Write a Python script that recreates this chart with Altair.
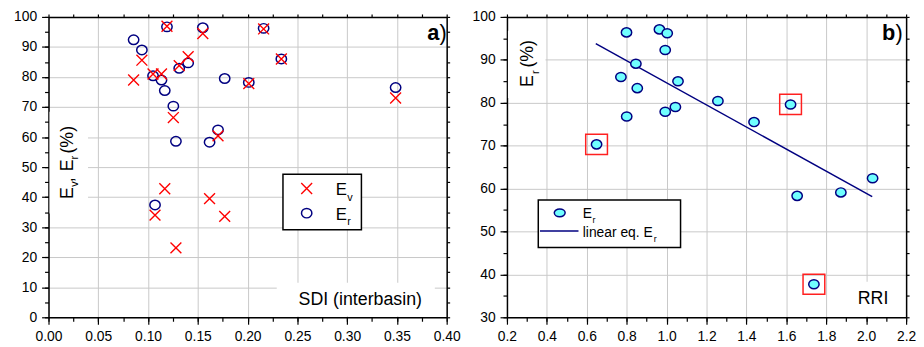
import altair as alt
import pandas as pd

# ---------------- Panel a: SDI (interbasin) vs Ev, Er ----------------
sdi = [0.0855, 0.0938, 0.1050, 0.1070, 0.1135, 0.1168, 0.1190, 0.1254, 0.1280, 0.1313,
       0.1403, 0.1550, 0.1618, 0.1703, 0.1770, 0.2012, 0.2161, 0.2339, 0.3487]
ev = [79.0, 85.6, 81.0, 34.0, 81.0, 42.8, 96.9, 66.5, 23.1, 83.8,
      86.8, 94.5, 39.5, 60.4, 33.6, 77.8, 96.0, 86.0, 73.0]
er_a = [92.4, 89.0, 80.4, 37.4, 79.0, 75.5, 96.7, 70.3, 58.6, 82.9,
        84.7, 96.4, 58.3, 62.4, 79.5, 78.2, 96.2, 86.0, 76.5]

# ---------------- Panel b: RRI vs Er ----------------
rri = [0.649, 0.771, 0.799, 0.800, 0.846, 0.853, 0.964, 0.993, 0.993, 1.003,
       1.044, 1.057, 1.257, 1.438, 1.621, 1.654, 1.738, 1.873, 2.032]
er_b = [70.3, 86.0, 96.4, 76.8, 89.1, 83.4, 97.1, 92.3, 77.9, 96.2,
        79.0, 85.0, 80.4, 75.5, 79.6, 58.3, 37.7, 59.1, 62.4]
flagged = [True, False, False, False, False, False, False, False, False, False,
           False, False, False, False, True, False, True, False, False]
fit_rri = [0.645, 2.030]
fit_er = [93.8, 58.1]

# tick values
xa_major = [round(i * 0.05, 3) for i in range(9)]
xa_minor = [round(i * 0.025, 3) for i in range(17)]
ya_major = list(range(0, 101, 10))
ya_minor = list(range(0, 101, 5))
xb_major = [round(0.2 + i * 0.2, 2) for i in range(11)]
xb_minor = [round(0.2 + i * 0.1, 2) for i in range(21)]
yb_major = list(range(30, 101, 10))
yb_minor = list(range(30, 101, 5))

FONT = "Liberation Sans"
NAVY = "#000080"
RED = "#ff0000"
CYAN = "#70ffff"
GRID = "#c8c8c8"
XPATH = "M-1,-1L1,1M1,-1L-1,1"
ELL_A = "M-1,0A1,0.91,0,1,1,1,0A1,0.91,0,1,1,-1,0Z"
ELL_B = "M-1,0A1,0.88,0,1,1,1,0A1,0.88,0,1,1,-1,0Z"
ELL_L = "M-1,0A1,0.72,0,1,1,1,0A1,0.72,0,1,1,-1,0Z"
BOXPATH = "M-1,-0.93H1V0.93H-1Z"

dfa = pd.DataFrame({"sdi": sdi, "ev": ev, "er": er_a})
dfb = pd.DataFrame({"rri": rri, "er": er_b, "flag": flagged})
dfl = pd.DataFrame({"rri": fit_rri, "er": fit_er})
one = pd.DataFrame({"k": [0]})


def ax_major(orient, values, fmt):
    return alt.Axis(orient=orient, values=values, format=fmt, title=None, grid=True,
                    gridColor=GRID, gridWidth=1, domain=True, domainColor="black",
                    domainWidth=1.5, ticks=True, tickColor="black", tickWidth=1.2,
                    tickSize=7, labelFont=FONT, labelFontSize=14, labelColor="black",
                    labelPadding=5, labelFlush=False, labelOverlap=False)


def ax_minor(orient, values):
    return alt.Axis(orient=orient, values=values, title=None, grid=False, domain=False,
                    labels=False, ticks=True, tickColor="black", tickWidth=1.2, tickSize=4)


def ax_frame(orient, values):
    return alt.Axis(orient=orient, values=values, title=None, grid=False, domain=True,
                    domainColor="black", domainWidth=1.5, labels=False, ticks=True,
                    tickColor="black", tickWidth=1.2, tickSize=3)


def txt(s, x, y, size, weight="normal", align="left", angle=0):
    kw = dict(text=s, font=FONT, fontSize=size, fontWeight=weight, align=align,
              baseline="alphabetic", color="black")
    if angle:
        kw["angle"] = angle
    return alt.Chart(one).mark_text(**kw).encode(x=alt.value(x), y=alt.value(y))


def box(x1, x2, y1, y2, stroke="white", sw=0):
    return alt.Chart(one).mark_rect(fill="white", stroke=stroke, strokeWidth=sw).encode(
        x=alt.value(x1), x2=alt.value(x2), y=alt.value(y1), y2=alt.value(y2))


def sym(x, y, shape, size, stroke, fill=None, sw=1.5):
    kw = dict(shape=shape, size=size, stroke=stroke, strokeWidth=sw, opacity=1)
    if fill:
        kw.update(filled=True, fill=fill)
    else:
        kw.update(filled=False)
    return alt.Chart(one).mark_point(**kw).encode(x=alt.value(x), y=alt.value(y))


# ---------------- Panel a ----------------
xs_a = alt.Scale(domain=[0, 0.4], nice=False, zero=False)
ys_a = alt.Scale(domain=[0, 100], nice=False)

frame_a = alt.Chart(dfa).mark_point(opacity=0).encode(
    x=alt.X("sdi:Q", scale=xs_a, axis=ax_frame("top", xa_minor)),
    y=alt.Y("er:Q", scale=ys_a, axis=ax_frame("right", ya_minor)))
circ_a = alt.Chart(dfa).mark_point(shape=ELL_A, size=110, filled=False, stroke=NAVY,
                                   strokeWidth=1.5, opacity=1).encode(
    x=alt.X("sdi:Q", scale=xs_a, axis=ax_major("bottom", xa_major, ".2f")),
    y=alt.Y("er:Q", scale=ys_a, axis=ax_major("left", ya_major, "d")))
cross_a = alt.Chart(dfa).mark_point(shape=XPATH, size=121, filled=False, stroke=RED,
                                    strokeWidth=1.4, opacity=1).encode(
    x=alt.X("sdi:Q", scale=xs_a, axis=ax_minor("bottom", xa_minor)),
    y=alt.Y("ev:Q", scale=ys_a, axis=ax_minor("left", ya_minor)))

panel_a = alt.layer(
    box(1, 40, 96, 199),
    box(231, 391, 269, 303),
    frame_a, circ_a, cross_a,
    txt("E", 24.7, 184.3, 18, angle=270),
    txt("v", 30, 171.8, 11, angle=270),
    txt(",", 24.7, 167.3, 18, angle=270),
    txt("E", 24.7, 156.3, 18, angle=270),
    txt("r", 30, 144.3, 11, angle=270),
    txt("(%)", 24.7, 138.3, 18, angle=270),
    txt("SDI (interbasin)", 378, 291.6, 18, align="right"),
    txt("a", 395.5, 23.6, 22, weight="bold", align="right"),
    txt(")", 403, 23.6, 22, align="right"),
    box(237.3, 316.7, 159.3, 215.3, stroke="black", sw=1.5),
    sym(261.3, 173.6, XPATH, 121, RED, sw=1.4),
    sym(261.3, 198.6, ELL_A, 110, NAVY),
    txt("E", 290.7, 180.3, 17),
    txt("v", 302.3, 186, 11),
    txt("E", 290.7, 205.3, 17),
    txt("r", 302.3, 211, 11),
).resolve_axis(x="independent", y="independent").properties(width=403, height=304)

# ---------------- Panel b ----------------
xs_b = alt.Scale(domain=[0.2, 2.2], nice=False, zero=False)
ys_b = alt.Scale(domain=[30, 100], nice=False, zero=False)

fit_b = alt.Chart(dfl).mark_line(color=NAVY, strokeWidth=1.5).encode(
    x=alt.X("rri:Q", scale=xs_b, axis=ax_frame("top", xb_minor)),
    y=alt.Y("er:Q", scale=ys_b, axis=ax_frame("right", yb_minor)))
pts_b = alt.Chart(dfb).mark_point(shape=ELL_B, size=110, filled=True, fill=CYAN,
                                  stroke=NAVY, strokeWidth=1.5, opacity=1).encode(
    x=alt.X("rri:Q", scale=xs_b, axis=ax_major("bottom", xb_major, ".1f")),
    y=alt.Y("er:Q", scale=ys_b, axis=ax_major("left", yb_major, "d")))
hl_b = alt.Chart(dfb).transform_filter("datum.flag").mark_point(
    shape=BOXPATH, size=484, filled=False, stroke="#ff2020", strokeWidth=1.5, opacity=1).encode(
    x=alt.X("rri:Q", scale=xs_b, axis=ax_minor("bottom", xb_minor)),
    y=alt.Y("er:Q", scale=ys_b, axis=ax_minor("left", yb_minor)))

panel_b = alt.layer(
    box(1, 39, 14, 82),
    box(337, 402, 268, 303),
    fit_b, pts_b, hl_b,
    txt("E", 26.7, 71, 18, angle=270),
    txt("r", 32, 57.8, 11, angle=270),
    txt("(%)", 26.7, 51.3, 18, angle=270),
    txt("RRI", 386, 291, 18, align="right"),
    txt("b", 393, 23.6, 22, weight="bold", align="right"),
    txt(")", 400.5, 23.6, 22, align="right"),
    box(31.7, 175.7, 185.3, 233.3, stroke="black", sw=1.5),
    sym(53.4, 198.3, ELL_L, 121, NAVY, fill=CYAN),
    alt.Chart(one).mark_rule(color=NAVY, strokeWidth=1.5).encode(
        x=alt.value(33.4), x2=alt.value(72.4), y=alt.value(216.6)),
    txt("E", 76.7, 203.6, 14),
    txt("r", 86.5, 208.5, 9),
    txt("linear eq. E", 76.7, 222.6, 14),
    txt("r", 148.5, 227.5, 9),
).resolve_axis(x="independent", y="independent").properties(width=404, height=304)

chart = alt.hconcat(panel_a, panel_b, spacing=11).properties(
    padding={"left": 5, "top": 0, "right": 0, "bottom": 0}
).configure_view(strokeWidth=0)

chart.save("out.html", embed_options={"renderer": "svg", "actions": False})
